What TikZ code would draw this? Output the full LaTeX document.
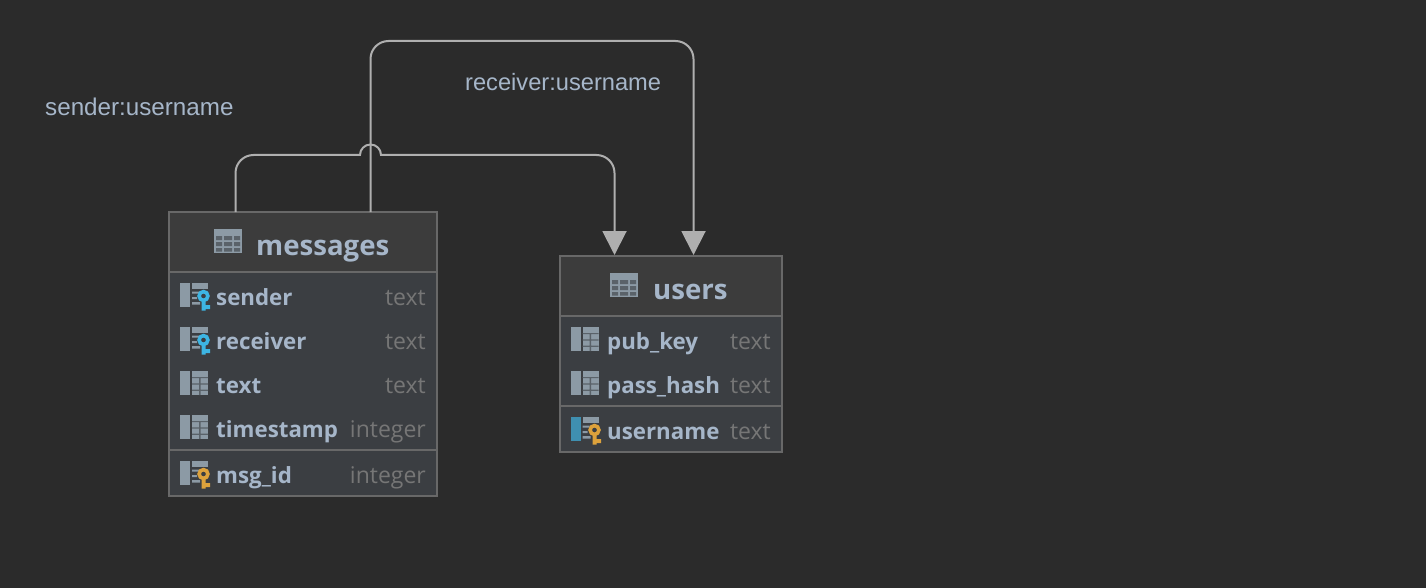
\documentclass[tikz,border=0pt]{standalone}
\usepackage{fontspec}
\setmainfont{Open Sans}
\newfontfamily\lblfont{Liberation Sans}
\usetikzlibrary{arrows.meta,calc}
\definecolor{bg}{HTML}{2B2B2B}
\definecolor{headfill}{HTML}{3C3C3C}
\definecolor{bodyfill}{HTML}{3B3E42}
\definecolor{edge}{HTML}{686868}
\definecolor{wire}{HTML}{AFAFAF}
\definecolor{ink}{HTML}{A6B6C9}
\definecolor{typeink}{HTML}{767676}
\definecolor{iconc}{HTML}{8C9AA5}
\definecolor{iconmid}{HTML}{5A6269}
\definecolor{pkbar}{HTML}{3F8FB0}
\definecolor{fkkey}{HTML}{3DB5E3}
\definecolor{pkkey}{HTML}{DDA23C}
\tikzset{
  x=1pt,y=-1pt,
  tablebox/.style={draw=edge,line width=1.5pt,fill=bodyfill,anchor=north west,inner sep=0pt,outer sep=0pt},
  headtxt/.style={font=\bfseries\fontsize{27.6}{30}\selectfont,text=ink,anchor=base west,inner sep=0pt},
  fieldtxt/.style={font=\bfseries\fontsize{22.3}{26}\selectfont,text=ink,anchor=base west,inner sep=0pt},
  typetxt/.style={font=\fontsize{23}{26}\selectfont,text=typeink,anchor=base east,inner sep=0pt},
  lbltxt/.style={text=ink,anchor=base west,inner sep=0pt},
  sepline/.style={edge,line width=2pt},
  wireline/.style={wire,line width=2pt,-{Triangle[width=24pt,length=24pt,fill=wire]}},
  pics/gridicon/.style={code={
    \fill[iconc] (0,0) rectangle (28,24);
    \fill[iconmid] (2,7) rectangle (8,11) (10,7) rectangle (18,11) (20,7) rectangle (26,11)
      (2,13) rectangle (8,17) (10,13) rectangle (18,17) (20,13) rectangle (26,17)
      (2,19) rectangle (8,22.5) (10,19) rectangle (18,22.5) (20,19) rectangle (26,22.5);
  }},
  pics/colicon/.style={code={
    \fill[iconc] (0,0) rectangle (10,24);
    \fill[iconc] (12,0) rectangle (28,24);
    \fill[iconmid] (19,6) rectangle (20.5,24) (12,6) rectangle (28,7.2) (12,12.4) rectangle (28,13.6) (12,18.6) rectangle (28,19.8);
  }},
  pics/keyicon/.style={code={
    \fill[iconc] (0,0) rectangle (10,24);
    \fill[iconc] (12,0) rectangle (28,6);
    \fill[iconc] (12,8.5) rectangle (19,10.5) (12,14) rectangle (17,16) (12,19) rectangle (20,21.5);
  }},
  pics/pkicon/.style={code={
    \fill[pkbar] (0,0) rectangle (10,24);
    \fill[iconc] (12,0) rectangle (28,6);
    \fill[iconc] (12,8.5) rectangle (19,10.5) (12,14) rectangle (17,16) (12,19) rectangle (20,21.5);
  }},
  pics/keyshape/.style={code={
    \draw[#1,line width=3.6pt] (0,0) circle (4.4);
    \fill[#1] (-2,5) rectangle (2,14.7) (2,9) rectangle (6.5,13);
  }},
}
\begin{document}
\begin{tikzpicture}
\useasboundingbox (0,0) rectangle (1426,588);
\fill[bg] (0,0) rectangle (1426,588);

% tables
\node[tablebox,minimum width=268pt,minimum height=284pt] (messages) at (169,212) {};
\node[tablebox,minimum width=222pt,minimum height=196pt] (users) at (560,256) {};
\fill[headfill] (169.8,212.8) rectangle (436.2,271);
\fill[headfill] (560.8,256.8) rectangle (781.2,315);
\draw[sepline] (messages.west |- 0,272) -- (messages.east |- 0,272);
\draw[sepline] (messages.west |- 0,450) -- (messages.east |- 0,450);
\draw[sepline] (users.west |- 0,316) -- (users.east |- 0,316);
\draw[sepline] (users.west |- 0,406) -- (users.east |- 0,406);

% messages
\pic at (214,229) {gridicon};
\node[headtxt] (mhead) at (256,255) {messages};
\pic at (180,283) {keyicon}; \pic at (203.5,296) {keyshape=fkkey};
\node[fieldtxt] (f1) at (216,305) {sender};
\node[typetxt] (t1) at (426,305) {text};
\pic at (180,327) {keyicon}; \pic at (203.5,340) {keyshape=fkkey};
\node[fieldtxt] (f2) at (216,349) {receiver};
\node[typetxt] (t2) at (426,349) {text};
\pic at (180,371) {colicon};
\node[fieldtxt] (f3) at (216,393) {text};
\node[typetxt] (t3) at (426,393) {text};
\pic at (180,415) {colicon};
\node[fieldtxt] (f4) at (216,437) {timestamp};
\node[typetxt] (t4) at (426,437) {integer};
\pic at (180,461) {keyicon}; \pic at (203.5,474) {keyshape=pkkey};
\node[fieldtxt] (f5) at (216,483) {msg\_id};
\node[typetxt] (t5) at (426,483) {integer};

% users
\pic at (610,273) {gridicon};
\node[headtxt] (uhead) at (653,299) {users};
\pic at (570.5,327) {colicon};
\node[fieldtxt] (g1) at (607,349) {pub\_key};
\node[typetxt] (u1) at (771,349) {text};
\pic at (570.5,371) {colicon};
\node[fieldtxt] (g2) at (607,393) {pass\_hash};
\node[typetxt] (u2) at (771,393) {text};
\pic at (570.5,417) {pkicon}; \pic at (594.5,430) {keyshape=pkkey};
\node[fieldtxt] (g3) at (607,439) {username};
\node[typetxt] (u3) at (771,439) {text};

% connector labels
\node[lbltxt,font=\lblfont\fontsize{24.2}{26}\selectfont] (lsender) at (45,116) {sender:username};
\node[lbltxt,font=\lblfont\fontsize{23.65}{26}\selectfont] (lreceiver) at (465,90.5) {receiver:username};

% connectors
\coordinate (sfrom) at ($(messages.north west)+(66.5,0)$);
\coordinate (rfrom) at ($(messages.north west)+(201.5,0)$);
\coordinate (sto) at ($(users.north west)+(54.5,-1)$);
\coordinate (rto) at ($(users.north west)+(133.5,-1)$);
\coordinate (rtop) at (0,41);
\coordinate (strack) at (0,155);
\draw[wireline,rounded corners=18pt] (rfrom) -- (rfrom |- rtop) -- (rto |- rtop) -- (rto);
\draw[wireline] (sfrom) -- ($(sfrom |- strack)+(0,18)$)
  arc[start angle=180,end angle=90,radius=18pt]
  -- ($(rfrom |- strack)+(-10.5,0)$)
  arc[start angle=180,end angle=0,radius=10.5pt]
  -- ($(sto |- strack)+(-18,0)$)
  arc[start angle=90,end angle=0,radius=18pt]
  -- (sto);
\end{tikzpicture}
\end{document}
